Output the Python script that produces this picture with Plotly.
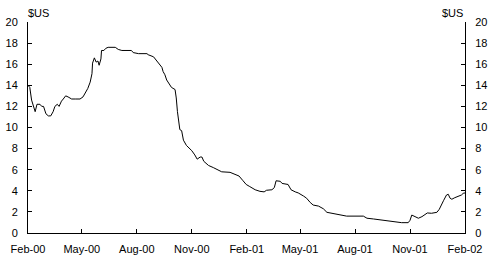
import plotly.graph_objects as go

dates = [
    "2000-02-01", "2000-02-04", "2000-02-07", "2000-02-10", "2000-02-13", "2000-02-16",
    "2000-02-21", "2000-02-24", "2000-02-27", "2000-03-02", "2000-03-06", "2000-03-10",
    "2000-03-14", "2000-03-17", "2000-03-21", "2000-03-24", "2000-03-28", "2000-03-31",
    "2000-04-04", "2000-04-08", "2000-04-14", "2000-04-20", "2000-04-28", "2000-05-03",
    "2000-05-06", "2000-05-11", "2000-05-15", "2000-05-18", "2000-05-19", "2000-05-22",
    "2000-05-25", "2000-05-28", "2000-05-30", "2000-06-02", "2000-06-03", "2000-06-07",
    "2000-06-10", "2000-06-14", "2000-06-26", "2000-07-01", "2000-07-07", "2000-07-23",
    "2000-07-26", "2000-08-04", "2000-08-18", "2000-08-20", "2000-08-29", "2000-09-02",
    "2000-09-08", "2000-09-12", "2000-09-14", "2000-09-17", "2000-09-20", "2000-09-23",
    "2000-09-28", "2000-10-04", "2000-10-06", "2000-10-08", "2000-10-11", "2000-10-12",
    "2000-10-15", "2000-10-18", "2000-10-23", "2000-11-01", "2000-11-06", "2000-11-10",
    "2000-11-15", "2000-11-18", "2000-11-21", "2000-11-29", "2000-12-07", "2000-12-15",
    "2000-12-21", "2001-01-04", "2001-01-12", "2001-01-19", "2001-01-25", "2001-01-31",
    "2001-02-06", "2001-02-15", "2001-02-23", "2001-03-02", "2001-03-06", "2001-03-15",
    "2001-03-19", "2001-03-22", "2001-03-29", "2001-04-01", "2001-04-11", "2001-04-16",
    "2001-04-23", "2001-04-28", "2001-05-07", "2001-05-12", "2001-05-18", "2001-05-23",
    "2001-06-01", "2001-06-09", "2001-06-15", "2001-06-23", "2001-07-01", "2001-07-10",
    "2001-07-18", "2001-08-15", "2001-08-21", "2001-09-01", "2001-09-15", "2001-09-26",
    "2001-10-10", "2001-10-18", "2001-10-29", "2001-11-01", "2001-11-04", "2001-11-09",
    "2001-11-15", "2001-11-21", "2001-11-26", "2001-11-30", "2001-12-07", "2001-12-16",
    "2001-12-20", "2001-12-23", "2001-12-27", "2002-01-01", "2002-01-04", "2002-01-07",
    "2002-01-10", "2002-01-15", "2002-01-21", "2002-01-26", "2002-01-29", "2002-02-01",
]

price_usd = [
    14.0, 13.8, 12.6, 12.0, 11.5, 12.2,
    12.2, 12.0, 12.0, 11.3, 11.1, 11.1,
    11.5, 12.0, 12.2, 12.0, 12.5, 12.7,
    13.0, 12.9, 12.7, 12.7, 12.7, 12.9,
    13.2, 13.7, 14.3, 15.1, 16.1, 16.6,
    16.2, 16.3, 15.9, 16.5, 17.3, 17.3,
    17.5, 17.6, 17.6, 17.4, 17.3, 17.3,
    17.1, 17.0, 17.0, 16.9, 16.7, 16.4,
    15.9, 15.7, 15.3, 15.0, 14.5, 14.2,
    13.8, 13.6, 12.8, 11.5, 10.4, 9.8,
    9.7, 8.8, 8.3, 7.8, 7.4, 7.0,
    7.2, 7.2, 6.8, 6.4, 6.2, 6.0,
    5.8, 5.75, 5.6, 5.4, 5.0, 4.6,
    4.4, 4.1, 3.95, 3.9, 4.05, 4.1,
    4.3, 4.95, 4.9, 4.7, 4.6, 4.1,
    3.9, 3.8, 3.5, 3.3, 2.9, 2.65,
    2.55, 2.3, 1.96, 1.87, 1.77, 1.7,
    1.6, 1.6, 1.4, 1.33, 1.23, 1.14,
    1.0, 0.98, 0.98, 1.2, 1.7, 1.55,
    1.4, 1.55, 1.7, 1.9, 1.87, 1.96,
    2.25, 2.65, 3.06, 3.6, 3.67, 3.3,
    3.2, 3.35, 3.45, 3.6, 3.76, 3.8,
]

tick_dates = ["2000-02-01", "2000-05-01", "2000-08-01", "2000-11-01", "2001-02-01",
              "2001-05-01", "2001-08-01", "2001-11-01", "2002-02-01"]
tick_labels = ["Feb-00", "May-00", "Aug-00", "Nov-00", "Feb-01",
               "May-01", "Aug-01", "Nov-01", "Feb-02"]
y_ticks = [0, 2, 4, 6, 8, 10, 12, 14, 16, 18, 20]
unit = "$US"

FONT = "Liberation Sans, Arial, sans-serif"

fig = go.Figure()
fig.add_trace(go.Scatter(x=dates, y=price_usd, mode="lines",
                         line=dict(color="black", width=1), showlegend=False,
                         hoverinfo="skip"))
fig.add_trace(go.Scatter(x=dates, y=price_usd, mode="lines", yaxis="y2",
                         line=dict(color="rgba(0,0,0,0)", width=0), showlegend=False,
                         hoverinfo="skip"))

axis_common = dict(showgrid=False, zeroline=False, showline=True, linecolor="black",
                   linewidth=1, ticks="inside", ticklen=4, tickcolor="black",
                   automargin=False,
                   tickfont=dict(family=FONT, size=11, color="black"))

fig.update_layout(
    width=492, height=265,
    margin=dict(l=28, r=27, t=22, b=32, autoexpand=False),
    paper_bgcolor="white", plot_bgcolor="white",
    xaxis=dict(**axis_common, type="date", range=[tick_dates[0], tick_dates[-1]],
               tickvals=tick_dates, ticktext=tick_labels, ticklabelstandoff=6),
    yaxis=dict(**axis_common, range=[0, 20], tickvals=y_ticks, side="left",
               ticklabelstandoff=7),
    yaxis2=dict(**axis_common, range=[0, 20], tickvals=y_ticks, side="right",
                overlaying="y", ticklabelstandoff=7),
    annotations=[
        dict(text=unit, xref="paper", yref="paper", x=0, y=1, xanchor="left",
             yanchor="bottom", showarrow=False, font=dict(family=FONT, size=11, color="black"),
             xshift=-2, yshift=1),
        dict(text=unit, xref="paper", yref="paper", x=1, y=1, xanchor="right",
             yanchor="bottom", showarrow=False, font=dict(family=FONT, size=11, color="black"),
             xshift=0, yshift=1),
    ],
)

fig.write_html("out.html")
